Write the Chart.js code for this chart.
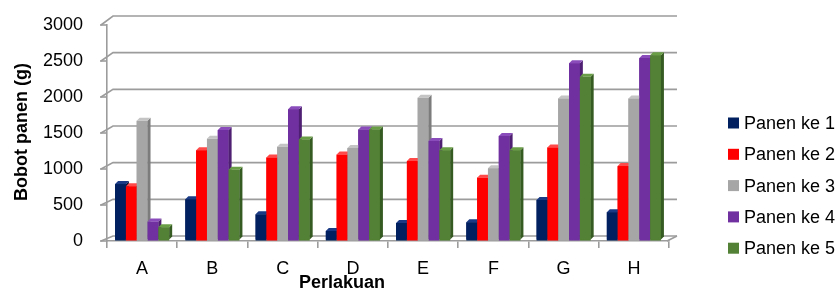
<!DOCTYPE html>
<html>
<head>
<meta charset="utf-8">
<script src="https://cdn.jsdelivr.net/npm/chart.js@4"></script>
<style>
  html, body { margin: 0; padding: 0; background: #fff; }
  #wrap { width: 838px; height: 291px; }
</style>
</head>
<body>
<div id="wrap"><canvas id="chart" width="838" height="291"></canvas></div>
<script>
// data
const categories = ['A', 'B', 'C', 'D', 'E', 'F', 'G', 'H'];
const seriesNames = ['Panen ke 1', 'Panen ke 2', 'Panen ke 3', 'Panen ke 4', 'Panen ke 5'];
const panen1 = [790, 580, 370, 140, 250, 260, 570, 400];
const panen2 = [760, 1260, 1160, 1200, 1110, 880, 1300, 1040];
const panen3 = [1670, 1420, 1310, 1290, 1990, 1010, 1980, 1980];
const panen4 = [270, 1540, 1830, 1550, 1390, 1460, 2470, 2540];
const panen5 = [190, 990, 1410, 1550, 1260, 1260, 2280, 2580];
const yTicks = [0, 500, 1000, 1500, 2000, 2500, 3000];

const seriesValues = [panen1, panen2, panen3, panen4, panen5];
const fronts = ['#00205f', '#ff0000', '#a6a6a6', '#7030a0', '#538135'];
const sides  = ['#00123a', '#b80000', '#7c7c7c', '#4e1f72', '#355a22'];
const tops   = ['#1a3a85', '#ff4a4a', '#c4c4c4', '#8a4cbb', '#6a9e46'];

const FONT = '"Liberation Sans", Arial, sans-serif';
const GRID = '#9c9c9c';

// 3D look: back wall, floor, bar side/top faces, titles, legend
const depthPlugin = {
    id: 'depth',
    beforeDatasetsDraw(chart) {
        const ctx = chart.ctx;
        const y = chart.scales.y;
        const area = chart.chartArea;
        ctx.save();
        ctx.strokeStyle = GRID;
        ctx.lineWidth = 1.6;
        yTicks.forEach(v => {
            const yf = y.getPixelForValue(v);
            const dy = 5 + 4 * v / 3000;
            ctx.beginPath();
            ctx.moveTo(area.left - 6, yf);
            ctx.lineTo(area.left + 6, yf - dy);
            ctx.lineTo(area.right + 8, yf - dy);
            ctx.stroke();
        });
        // right edge of the floor
        const y0 = y.getPixelForValue(0);
        ctx.beginPath();
        ctx.moveTo(area.right - 2, y0);
        ctx.lineTo(area.right + 8, y0 - 5);
        ctx.stroke();
        ctx.restore();
    },
    afterDatasetsDraw(chart) {
        const ctx = chart.ctx;
        const d = 3;
        ctx.save();
        categories.forEach((c, i) => {
            seriesValues.forEach((vals, j) => {
                const bar = chart.getDatasetMeta(j).data[i];
                const half = bar.width / 2;
                const x0 = bar.x - half, x1 = bar.x + half;
                const top = bar.y, bottom = bar.base - 1;
                ctx.fillStyle = fronts[j];
                ctx.fillRect(x0, top, x1 - x0, bottom - top);
                ctx.fillStyle = sides[j];
                ctx.beginPath();
                ctx.moveTo(x1, top);
                ctx.lineTo(x1 + d, top - d);
                ctx.lineTo(x1 + d, bottom - d);
                ctx.lineTo(x1, bottom);
                ctx.closePath();
                ctx.fill();
                ctx.fillStyle = tops[j];
                ctx.beginPath();
                ctx.moveTo(x0, top);
                ctx.lineTo(x0 + d, top - d);
                ctx.lineTo(x1 + d, top - d);
                ctx.lineTo(x1, top);
                ctx.closePath();
                ctx.fill();
            });
        });
        ctx.restore();
    },
    afterDraw(chart) {
        const ctx = chart.ctx;
        const y = chart.scales.y;
        const area = chart.chartArea;
        ctx.save();
        // small y tick marks
        ctx.strokeStyle = GRID;
        ctx.lineWidth = 1.6;
        yTicks.forEach(v => {
            const yf = y.getPixelForValue(v);
            ctx.beginPath();
            ctx.moveTo(area.left - 7, yf);
            ctx.lineTo(area.left, yf);
            ctx.stroke();
        });
        // axis titles
        ctx.fillStyle = '#000';
        ctx.font = 'bold 18px ' + FONT;
        ctx.textAlign = 'center';
        ctx.textBaseline = 'middle';
        ctx.fillText('Perlakuan', 342, 283);
        ctx.translate(22, 132);
        ctx.rotate(-Math.PI / 2);
        ctx.fillText('Bobot panen (g)', 0, 0);
        ctx.restore();

        // legend
        ctx.save();
        ctx.font = '18px ' + FONT;
        ctx.textAlign = 'left';
        ctx.textBaseline = 'middle';
        seriesNames.forEach((name, j) => {
            const ly = 123 + j * 31.3;
            ctx.fillStyle = fronts[j];
            ctx.fillRect(728, ly - 5.5, 11, 11);
            ctx.fillStyle = '#000';
            ctx.fillText(name, 744, ly + 1);
        });
        ctx.restore();
    }
};

const ctx = document.getElementById('chart').getContext('2d');
new Chart(ctx, {
    type: 'bar',
    data: {
        labels: categories,
        datasets: seriesValues.map((vals, j) => ({
            label: seriesNames[j],
            data: vals,
            backgroundColor: fronts[j],
            borderWidth: 0,
            categoryPercentage: 0.77,
            barPercentage: 1.0
        }))
    },
    options: {
        responsive: false,
        animation: false,
        layout: { padding: { left: 0, top: 25, right: 169, bottom: 0 } },
        plugins: {
            legend: { display: false },
            tooltip: { enabled: false }
        },
        scales: {
            x: {
                afterFit: s => { s.height = 50; },
                grid: {
                    display: true,
                    drawOnChartArea: false,
                    offset: true,
                    tickLength: 7,
                    color: GRID,
                    lineWidth: 1.6
                },
                border: { display: true, color: GRID, width: 1.6 },
                ticks: {
                    color: '#000',
                    padding: 10,
                    font: { family: FONT, size: 18 }
                }
            },
            y: {
                min: 0,
                max: 3000,
                afterFit: s => { s.width = 107; },
                afterBuildTicks: s => { s.ticks = yTicks.map(v => ({ value: v })); },
                grid: {
                    display: true,
                    drawOnChartArea: false,
                    tickLength: 24,
                    color: 'rgba(0,0,0,0)'
                },
                border: { display: true, color: GRID, width: 1.6 },
                ticks: {
                    color: '#000',
                    padding: 0,
                    font: { family: FONT, size: 18 },
                    callback: v => String(v)
                }
            }
        }
    },
    plugins: [depthPlugin]
});
</script>
</body>
</html>
